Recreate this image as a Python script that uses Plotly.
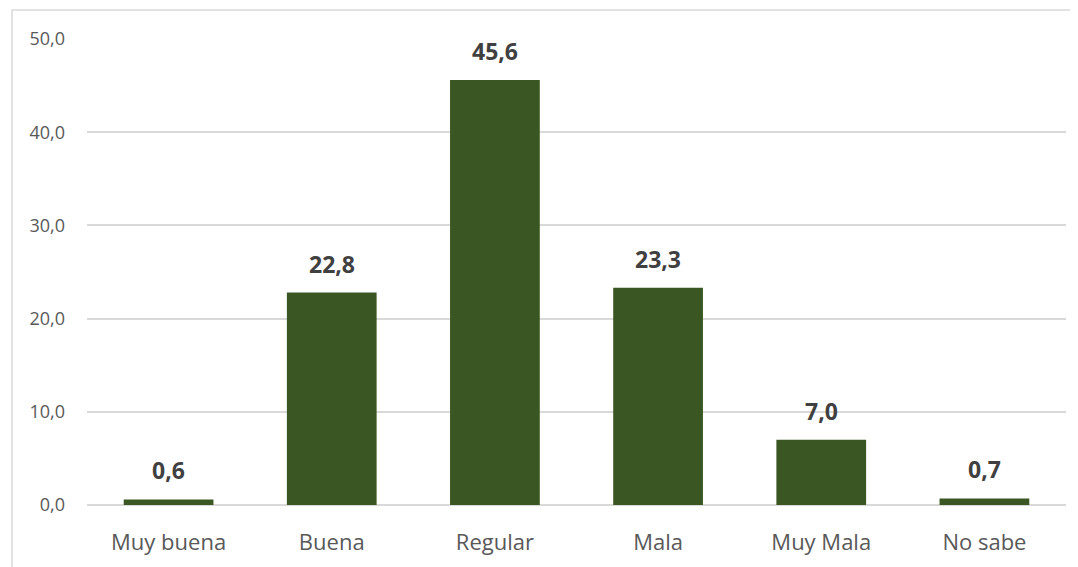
import plotly.graph_objects as go

categories = ["Muy buena", "Buena", "Regular", "Mala", "Muy Mala", "No sabe"]
values = [0.6, 22.8, 45.6, 23.3, 7.0, 0.7]
tick_vals = [0, 10, 20, 30, 40, 50]
tick_text = ["0,0", "10,0", "20,0", "30,0", "40,0", "50,0"]
labels = [f"{v:.1f}".replace(".", ",") for v in values]

# page has 8px body margin; figure sized to fit viewport
W, H = 1070, 559
L, R, T, B = 79, 12, 31, 62
pw = W - L - R
ph = H - T - B
FONT = "Open Sans, Liberation Sans, sans-serif"

fig = go.Figure(go.Bar(
    x=categories, y=values,
    marker=dict(color="#3A5723", line=dict(width=0)),
    width=0.55,
))

for c, v, t in zip(categories, values, labels):
    fig.add_annotation(x=c, y=v, text=f"<b>{t}</b>", showarrow=False,
                       yanchor="bottom", yshift=11,
                       font=dict(family=FONT, size=23, color="#404040"))

fig.update_layout(
    width=W, height=H,
    margin=dict(l=L, r=R, t=T, b=B, autoexpand=False),
    plot_bgcolor="white", paper_bgcolor="white",
    showlegend=False,
    font=dict(family=FONT, color="#595959"),
    xaxis=dict(showgrid=False, showline=False, ticks="", automargin=False,
               tickfont=dict(size=22, color="#595959"), ticklabelstandoff=22),
    yaxis=dict(range=[0, 50], tickvals=tick_vals, ticktext=tick_text,
               showgrid=True, gridcolor="#D9D9D9", gridwidth=1.5,
               zeroline=True, zerolinecolor="#D9D9D9", zerolinewidth=1.5,
               showline=False, ticks="", automargin=False,
               tickfont=dict(size=18, color="#595959"),
               ticklabelstandoff=21),
    bargap=0.45,
)

fig.add_shape(type="rect", xref="paper", yref="paper",
              x0=(4 - L) / pw, x1=1 + 30 / pw,
              y0=-(B + 30) / ph, y1=1 + (T - 2) / ph,
              line=dict(color="#D9D9D9", width=1.5), fillcolor="rgba(0,0,0,0)", layer="below")

fig.write_html("out.html")
